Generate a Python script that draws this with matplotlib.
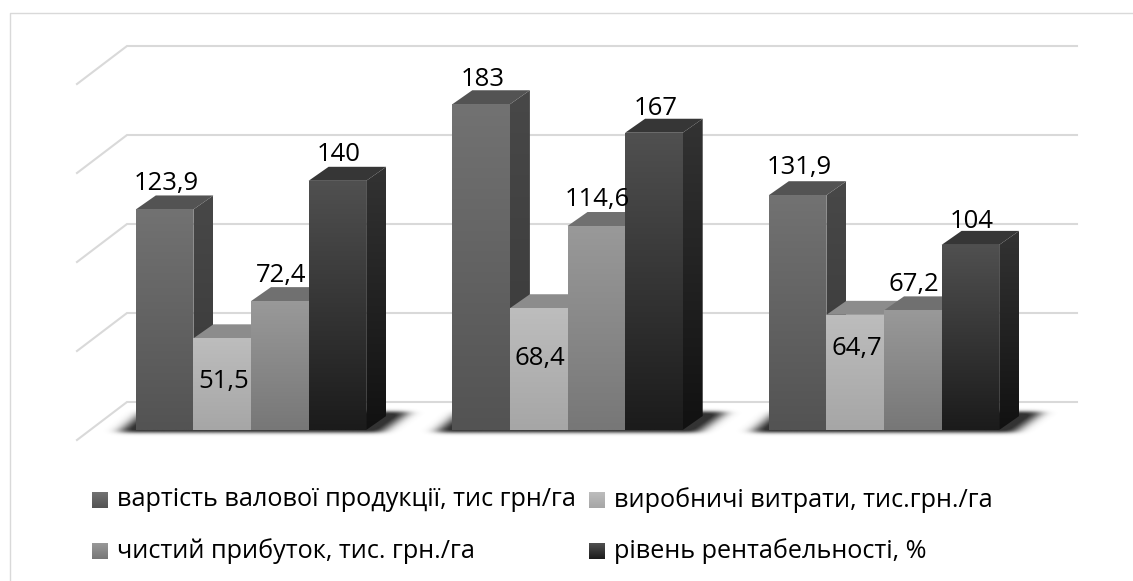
import numpy as np
import matplotlib
matplotlib.use("Agg")
import matplotlib.pyplot as plt
from matplotlib.lines import Line2D
from matplotlib.patches import Polygon

plt.rcParams['font.family'] = ['Open Sans', 'DejaVu Sans']

# значення
series_names = ["вартість валової продукції, тис грн/га", "виробничі витрати, тис.грн./га",
                "чистий прибуток, тис. грн./га", "рівень рентабельності, %"]
values_1 = [123.9, 183, 131.9]
values_2 = [51.5, 68.4, 64.7]
values_3 = [72.4, 114.6, 67.2]
values_4 = [140, 167, 104]
labels_1 = ["123,9", "183", "131,9"]
labels_2 = ["51,5", "68,4", "64,7"]
labels_3 = ["72,4", "114,6", "67,2"]
labels_4 = ["140", "167", "104"]
y_ticks = [0, 50, 100, 150, 200]

# розмітка, пікселі
W, H = 1133, 581
PX_X = 316.5   # пікселів на одну групу
PX_Y = 1.78    # пікселів на одиницю значення
X0, Y0 = 251, 430
BAR_W = 57.6 / PX_X
DX, DY = 20 / PX_X, 14 / PX_Y

# (перед верх, перед низ, бік верх, бік низ, дах)
colors = [("#727272", "#535353", "#484848", "#383838", "#535353"),
          ("#bdbdbd", "#a6a6a6", "#8a8a8a", "#7a7a7a", "#8c8c8c"),
          ("#999999", "#777777", "#686868", "#525252", "#707070"),
          ("#505050", "#1b1b1b", "#333333", "#111111", "#363636")]
label_dy = [[19, 18, 21], [-50, -57, -40], [19, 20, 19], [20, 18, 17]]

fig = plt.figure(figsize=(W / 100, H / 100), dpi=100)
ax = fig.add_axes([0, 0, 1, 1])
ax.axis("off")


def gradient(points, c_top, c_bottom, z):
    xs = [p[0] for p in points]
    ys = [p[1] for p in points]
    a = np.array(matplotlib.colors.to_rgb(c_top))
    b = np.array(matplotlib.colors.to_rgb(c_bottom))
    t = np.linspace(0, 1, 128)[:, None, None]
    img = a[None, None, :] * (1 - t) + b[None, None, :] * t
    im = ax.imshow(img, extent=[min(xs), max(xs), min(ys), max(ys)], aspect="auto", zorder=z)
    patch = Polygon(points, closed=True, transform=ax.transData, fc="none", ec="none")
    ax.add_patch(patch)
    im.set_clip_path(patch)


def blur(mask, sigma, axis):
    half = int(3 * sigma) + 1
    kernel = np.exp(-np.arange(-half, half + 1) ** 2 / (2 * sigma ** 2))
    kernel /= kernel.sum()
    return np.apply_along_axis(lambda m: np.convolve(m, kernel, mode="same"), axis, mask)


def shadow(center):
    # розмита тінь під групою
    xs = np.arange(-175, 195)
    ys = np.arange(-40, 30)
    gx, gy = np.meshgrid(xs, ys)
    t = (3 - gy) / 22.0
    mask = (gy > -19) & (gy < 3) & (gx > -133 + t * 26) & (gx < 130 + t * 29)
    mask = blur(mask.astype(float), 7.0, 1)
    mask = blur(mask, 1.8, 0)
    rgba = np.zeros(mask.shape + (4,))
    rgba[..., :3] = 0.2
    rgba[..., 3] = np.clip(mask * 1.15, 0, 1)
    ax.imshow(rgba, extent=[center + xs[0] / PX_X, center + xs[-1] / PX_X, -ys[-1] / PX_Y, -ys[0] / PX_Y],
              aspect="auto", zorder=2)


# сітка
wall_x = (127 - X0) / PX_X
end_x = (1077 - X0) / PX_X
front_x = (77 - X0) / PX_X
for t in y_ticks:
    y = t + 28 / PX_Y
    ax.plot([front_x, wall_x, end_x], [y - 38 / PX_Y, y, y], color="#d9d9d9", lw=1.5, zorder=1,
            solid_joinstyle="miter")

all_values = [values_1, values_2, values_3, values_4]
all_labels = [labels_1, labels_2, labels_3, labels_4]
for g in range(3):
    shadow(g)
    for s in range(4):
        v = all_values[s][g]
        x = g + (s - 2) * BAR_W
        c = colors[s]
        z = 3 + s * 0.1 + g
        gradient([(x + BAR_W, 0), (x + BAR_W + DX, DY), (x + BAR_W + DX, v + DY), (x + BAR_W, v)], c[2], c[3], z)
        ax.add_patch(Polygon([(x, v), (x + BAR_W, v), (x + BAR_W + DX, v + DY), (x + DX, v + DY)],
                             closed=True, fc=c[4], ec="none", zorder=z))
        gradient([(x, 0), (x + BAR_W, 0), (x + BAR_W, v), (x, v)], c[0], c[1], z + 0.01)
        ax.annotate(all_labels[s][g], (x + BAR_W / 2, v), xytext=(1, label_dy[s][g] * 0.72),
                    textcoords="offset points", ha="center", va="baseline", fontsize=18.5,
                    color="black", zorder=10)

# рамка: лише верх і ліворуч
fig.add_artist(Line2D([9.5 / W, 9.5 / W, 1], [0, 1 - 12.5 / H, 1 - 12.5 / H], transform=fig.transFigure,
                      color="#d9d9d9", lw=1))

# легенда
legend_pos = [(92, 500), (589, 500), (92, 551), (589, 551)]
for (px, py), name, c in zip(legend_pos, series_names, colors):
    lx = (px - X0) / PX_X
    sz = 16
    gradient([(lx, (Y0 - py + sz / 2) / PX_Y), (lx + sz / PX_X, (Y0 - py + sz / 2) / PX_Y),
              (lx + sz / PX_X, (Y0 - py - sz / 2) / PX_Y), (lx, (Y0 - py - sz / 2) / PX_Y)], c[0], c[1], 5)
    ax.text(lx + 25 / PX_X, (Y0 - py) / PX_Y, name, ha="left", va="center", fontsize=18.2, color="black")

ax.set_xlim(-X0 / PX_X, (W - X0) / PX_X)
ax.set_ylim((Y0 - H) / PX_Y, Y0 / PX_Y)
plt.savefig("out.png", dpi=100)
